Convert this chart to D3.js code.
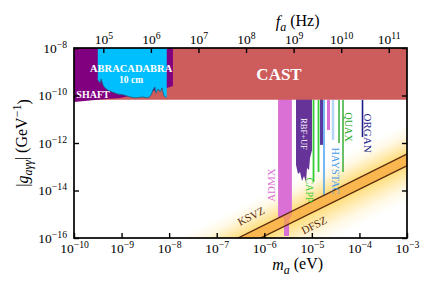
<!DOCTYPE html>
<html>
<head>
<meta charset="utf-8">
<script src="https://cdn.jsdelivr.net/npm/d3@7"></script>
<style>
  body { margin: 0; background: #fff; }
  svg { font-family: "Liberation Serif", "DejaVu Serif", serif; }
</style>
</head>
<body>
<div class="chart"></div>
<script>
// axes (log10 exponents)
const massDomain = [1e-10, 1e-3];      // eV
const couplingDomain = [1e-16, 1e-8];  // GeV^-1
const massTicks = [-10, -9, -8, -7, -6, -5, -4, -3];
const couplingTicks = [-16, -14, -12, -10, -8];
const freqTicks = [5, 6, 7, 8, 9, 10, 11];
const eVtoHz = 2.418e14;

// exclusion regions, points are [log10 m_a, log10 g]
const cast = [[-10, -10.18], [-3, -10.18], [-3, -8], [-10, -8]];
const shaft = [[-10, -8], [-7.92, -8], [-7.92, -9.6], [-8.05, -9.68], [-9.03, -10.1], [-9.45, -10.17], [-10, -10.27]];
const abracadabra = [[-9.5, -8], [-8.05, -8], [-8.05, -10.1], [-8.11, -10.02], [-8.15, -9.68], [-8.19, -9.85],
  [-8.23, -9.73], [-8.28, -9.9], [-8.3, -9.64], [-8.34, -9.77], [-8.38, -9.98], [-8.44, -10.1], [-8.57, -10.06],
  [-8.7, -10.1], [-8.82, -10.06], [-8.95, -9.98], [-9.08, -9.94], [-9.2, -9.85], [-9.29, -9.77], [-9.35, -9.68],
  [-9.39, -9.56], [-9.43, -9.3], [-9.45, -9.47], [-9.5, -9.35]];
const admx = [[-5.71, -10.1], [-5.42, -10.1], [-5.42, -15.03], [-5.48, -15.24], [-5.48, -15.92],
  [-5.585, -15.92], [-5.585, -15.16], [-5.71, -15.16]];
const rbfuf = [[-5.333, -10.1], [-4.997, -10.1], [-4.997, -12.3], [-5.039, -12.63], [-5.06, -13.14], [-5.102, -13.05],
  [-5.123, -13.64], [-5.165, -13.39], [-5.207, -13.6], [-5.249, -13.22], [-5.291, -13.3], [-5.333, -12.93]];
const rbfufHigh = [[-4.829, -10.1], [-4.766, -10.1], [-4.766, -12.08], [-4.829, -12.08]];

// narrow haloscope scans, [log10 m_a, log10 g reached]
const capp = [[-4.965, -13.64], [-4.86, -13.22]];
const haystac = [[-4.745, -14.19]];
const haystacPale = [[-4.555, -11.87]];
const admxSidecar = [[-4.65, -11.45]];
const quax = [[-4.429, -12.0], [-4.345, -13.22]];
const organ = [[-3.935, -11.75]];

// QCD axion lines
const ksvz = [[-6.55, -16], [-3, -12.46]];
const dfsz = [[-6.09, -16], [-3, -12.97]];

const W = 436, H = 291;
const margin = { top: 48, right: 29, bottom: 53, left: 74 };
const w = W - margin.left - margin.right;
const h = H - margin.top - margin.bottom;

const x = d3.scaleLog().domain(massDomain).range([0, w]);
const y = d3.scaleLog().domain(couplingDomain).range([h, 0]);
const xf = d3.scaleLog().domain(massDomain.map(m => m * eVtoHz)).range([0, w]);
const P = ([lm, lg]) => [x(10 ** lm), y(10 ** lg)];
const castTop = y(10 ** cast[0][1]);

const svg = d3.select(".chart").append("svg")
  .attr("width", W).attr("height", H);
const defs = svg.append("defs");
defs.append("clipPath").attr("id", "plot")
  .append("rect").attr("width", w).attr("height", h);

const g = svg.append("g").attr("transform", `translate(${margin.left},${margin.top})`);
const plot = g.append("g").attr("clip-path", "url(#plot)");

// --- QCD band glow (drawn underneath)
const k0 = P(ksvz[0]), k1 = P(ksvz[1]), d0 = P(dfsz[0]), d1 = P(dfsz[1]);
const len = Math.hypot(k1[0] - k0[0], k1[1] - k0[1]);
const u = [(k1[0] - k0[0]) / len, (k1[1] - k0[1]) / len];
const n = [-u[1], u[0]];
const ext = (p, t, s) => [p[0] + u[0] * t + n[0] * s, p[1] + u[1] * t + n[1] * s];
const up = 27, down = 32;
const gap = (d1[0] - k1[0]) * n[0] + (d1[1] - k1[1]) * n[1];
const total = up + gap + down;
const g0 = ext(k1, 0, -up), g1 = ext(k1, 0, gap + down);

const grad = defs.append("linearGradient").attr("id", "glow")
  .attr("gradientUnits", "userSpaceOnUse")
  .attr("x1", g0[0]).attr("y1", g0[1]).attr("x2", g1[0]).attr("y2", g1[1]);
[[0, 0], [0.4 * up / total, 0.18], [0.75 * up / total, 0.55], [up / total, 0.85], [(up + gap) / total, 0.85],
 [(up + gap + 0.3 * down) / total, 0.5], [(up + gap + 0.65 * down) / total, 0.16], [1, 0]]
  .forEach(([o, a]) => grad.append("stop").attr("offset", o)
    .attr("stop-color", "#ffd866").attr("stop-opacity", a));

plot.append("path")
  .attr("d", d3.line()([ext(k0, -400, -up), ext(k1, 300, -up), ext(d1, 300, down), ext(d0, -400, down)]) + "Z")
  .attr("fill", "url(#glow)");

// --- regions
const region = (pts, fill) => plot.append("path")
  .attr("d", d3.line()(pts.map(P)) + "Z")
  .attr("fill", fill);

region(admx, "#da70d6");
region(rbfuf, "#663399");
region(rbfufHigh, "#5b3aa0");

const scan = (pts, color, width) => pts.forEach(p => {
  const [px, py] = P(p);
  plot.append("line")
    .attr("x1", px).attr("x2", px)
    .attr("y1", castTop).attr("y2", py)
    .attr("stroke", color).attr("stroke-width", width);
});
scan(admxSidecar, "#da70d6", 3);
scan(haystacPale, "#b5d6f5", 2.5);
scan(capp, "#33cc33", 1.8);
scan(haystac, "#3f9bf0", 1.4);
scan(quax, "#2aa82a", 1.4);
scan(organ, "#1c1c8c", 1.6);

// orange band between KSVZ and DFSZ
plot.append("path")
  .attr("d", d3.line()([ext(k0, -100, 0), ext(k1, 100, 0), ext(d1, 100, 0), ext(d0, -100, 0)]) + "Z")
  .attr("fill", "#f8a83e").attr("fill-opacity", 0.72);

[[k0, k1], [d0, d1]].forEach(([a, b]) => plot.append("line")
  .attr("x1", ext(a, -100, 0)[0]).attr("y1", ext(a, -100, 0)[1])
  .attr("x2", ext(b, 100, 0)[0]).attr("y2", ext(b, 100, 0)[1])
  .attr("stroke", "#5a2c0c").attr("stroke-width", 1.3));

// low mass limits over the rest
region(cast, "#cd5c5c");
region(shaft, "#800080");
region(abracadabra, "#00bfff");
plot.append("path")
  .attr("d", d3.line()(abracadabra.slice(2).map(P)))
  .attr("fill", "none").attr("stroke", "#16607e").attr("stroke-width", 0.8);

// --- labels
const labels = [
  { text: "CAST", at: [-5.69, -9.1], size: 17, color: "#fff", weight: "bold", rot: 0 },
  { text: "ABRACADABRA", at: [-8.8, -8.88], size: 10.5, color: "#fff", weight: "bold", rot: 0 },
  { text: "10 cm", at: [-8.8, -9.35], size: 9.5, color: "#fff", weight: "bold", rot: 0 },
  { text: "SHAFT", at: [-9.6, -9.94], size: 10, color: "#fff", weight: "bold", rot: 0 },
  { text: "ADMX", at: [-5.86, -13.77], size: 11, color: "#da70d6", rot: -90 },
  { text: "RBF+UF", at: [-5.165, -11.62], size: 8.5, color: "#fff", rot: 90 },
  { text: "CAPP", at: [-5.06, -13.98], size: 10, color: "#33cc33", rot: 90 },
  { text: "HAYSTAC", at: [-4.51, -13.18], size: 10.3, color: "#3f9bf0", rot: 90 },
  { text: "QUAX", at: [-4.24, -11.33], size: 10.3, color: "#2aa82a", rot: 90 },
  { text: "ORGAN", at: [-3.82, -11.58], size: 11, color: "#1c1c8c", rot: 90 },
  { text: "KSVZ", at: [-6.28, -15.07], size: 11, color: "#5a2c0c", rot: -26.5 },
  { text: "DFSZ", at: [-4.955, -15.45], size: 11, color: "#5a2c0c", rot: -26.5 },
];
labels.forEach(l => {
  const [px, py] = P(l.at);
  g.append("text")
    .attr("transform", `translate(${px},${py}) rotate(${l.rot})`)
    .attr("text-anchor", "middle")
    .attr("dominant-baseline", "central")
    .attr("font-size", l.size)
    .attr("font-weight", l.weight || "normal")
    .attr("fill", l.color)
    .text(l.text);
});

// --- axes
const power = function (d) {
  const t = d3.select(this).text("");
  t.append("tspan").text("10");
  t.append("tspan").attr("dy", "-0.5em").attr("font-size", "0.72em")
    .text(String(Math.round(Math.log10(d))).replace("-", "\u2212"));
};
const styleAxis = sel => {
  sel.select(".domain").remove();
  sel.selectAll(".tick line").attr("stroke", "#000").attr("stroke-width", 1.4);
  sel.selectAll(".tick text").attr("fill", "#000").attr("font-size", 13.5)
    .attr("font-family", "Liberation Serif, serif").each(power);
};

g.append("g").attr("transform", `translate(0,${h})`)
  .call(d3.axisBottom(x).tickValues(massTicks.map(e => 10 ** e)).tickSize(-5).tickPadding(5))
  .call(styleAxis);
g.append("g")
  .call(d3.axisLeft(y).tickValues(couplingTicks.map(e => 10 ** e)).tickSize(-5).tickPadding(7))
  .call(styleAxis);
g.append("g").attr("transform", `translate(${w},0)`)
  .call(d3.axisRight(y).tickValues(couplingTicks.map(e => 10 ** e)).tickSize(-5).tickFormat(""))
  .call(sel => { sel.select(".domain").remove(); sel.selectAll(".tick line").attr("stroke-width", 1.4); });
g.append("g")
  .call(d3.axisTop(xf).tickValues(freqTicks.map(e => 10 ** e)).tickSize(-5).tickPadding(4))
  .call(styleAxis);

g.append("rect").attr("width", w).attr("height", h)
  .attr("fill", "none").attr("stroke", "#000").attr("stroke-width", 1.7);

// axis titles
const title = (tx, ty, rot, parts) => {
  const t = svg.append("text")
    .attr("transform", `translate(${tx},${ty}) rotate(${rot})`)
    .attr("text-anchor", "middle").attr("font-size", 16);
  parts.forEach(([s, opt]) => {
    const sp = t.append("tspan").text(s);
    if (opt && opt.it) sp.attr("font-style", "italic");
    if (opt && opt.dy) sp.attr("dy", opt.dy);
    if (opt && opt.fs) sp.attr("font-size", opt.fs);
  });
};
title(margin.left + x(10 ** -5.3), 27, 0, [["f", { it: 1 }], ["a", { it: 1, dy: "0.3em", fs: 12 }], [" (Hz)", { dy: "-0.3em" }]]);
title(margin.left + x(10 ** -5.3), 270, 0, [["m", { it: 1 }], ["a", { it: 1, dy: "0.3em", fs: 12 }], [" (eV)", { dy: "-0.3em" }]]);
title(28, margin.top + h / 2, -90, [["|"], ["g", { it: 1 }], ["a\u03b3\u03b3", { it: 1, dy: "0.3em", fs: 12 }],
  ["| (GeV", { dy: "-0.3em" }], ["\u22121", { dy: "-0.45em", fs: 12 }], [")", { dy: "0.45em" }]]);
</script>
</body>
</html>
